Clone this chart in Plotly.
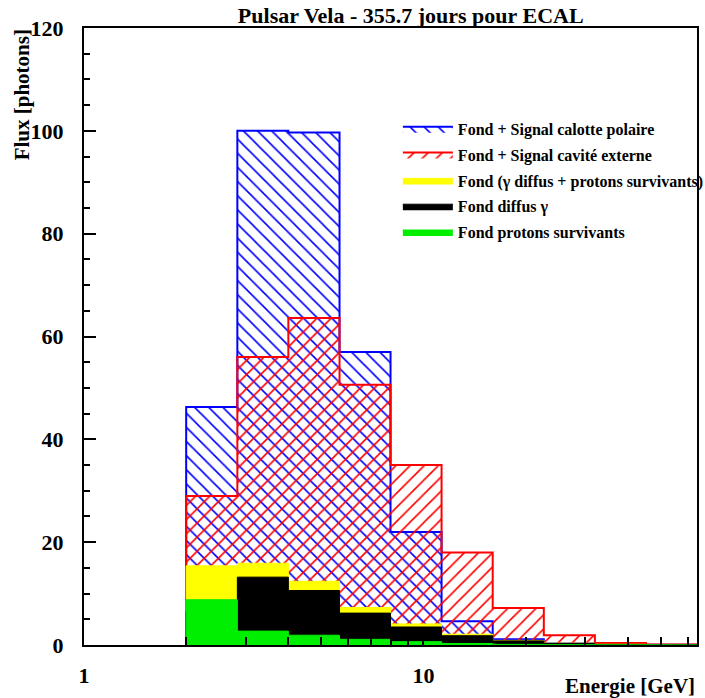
import plotly.graph_objects as go

# Bin edges (GeV) and contents (photons)
edges = [2.0, 2.83, 4.0, 5.66, 8.0, 11.31, 16.0, 22.63, 32.0, 45.25, 64.0]
calotte = [46.3, 100.0, 99.7, 57.0, 22.0, 4.6, 1.1, 0.3, 0.1, 0.05]
cavite = [29.0, 56.0, 63.6, 50.6, 35.0, 18.0, 7.2, 1.9, 0.4, 0.1]
fond_total = [15.4, 15.9, 12.4, 7.3, 4.1, 2.1, 0.9, 0.35, 0.15, 0.05]
fond_gamma = [6.6, 13.2, 10.6, 6.2, 3.5, 1.8, 0.8, 0.3, 0.12, 0.04]
fond_protons = [8.8, 2.7, 1.9, 1.1, 0.65, 0.3, 0.12, 0.06, 0.03, 0.01]

names = ["Fond + Signal calotte polaire", "Fond + Signal cavité externe",
         "Fond (γ diffus + protons survivants)", "Fond diffus γ",
         "Fond protons survivants"]

FONT = "Liberation Serif"


def step(edges, vals):
    xs, ys = [edges[0]], [0]
    for i, v in enumerate(vals):
        xs += [edges[i], edges[i + 1]]
        ys += [v, v]
    xs.append(edges[-1])
    ys.append(0)
    return xs, ys


fig = go.Figure()

series = [
    (calotte, "blue", dict(shape="\\", fgcolor="blue", fgopacity=1, bgcolor="rgba(0,0,0,0)", size=10, solidity=0.16, fillmode="overlay"), None),
    (cavite, "red", dict(shape="/", fgcolor="red", fgopacity=1, bgcolor="rgba(0,0,0,0)", size=10, solidity=0.16, fillmode="overlay"), None),
    (fond_total, "#ffff00", None, "#ffff00"),
    (fond_gamma, "black", None, "black"),
    (fond_protons, "#00ee00", None, "#00ee00"),
]

for i, ((vals, col, pat, fc), name) in enumerate(zip(series, names)):
    xs, ys = step(edges, vals)
    kw = dict(x=xs, y=ys, mode="lines", fill="toself", name=name, legendgroup=f"g{i}",
              line=dict(color=col, width=2 if pat else 1))
    if pat:
        kw["fillpattern"] = pat
        kw["fillcolor"] = "rgba(0,0,0,0)"
    else:
        kw["fillcolor"] = fc
    fig.add_trace(go.Scatter(**kw))

fig.update_layout(
    width=705, height=698,
    margin=dict(l=84, r=8, t=28, b=53, autoexpand=False),
    paper_bgcolor="white", plot_bgcolor="white",
    font=dict(family=FONT, color="black", size=16, weight="bold"),
    showlegend=True,
    legend=dict(x=0.512, y=0.864, xanchor="left", yanchor="top", tracegroupgap=2,
                bgcolor="rgba(0,0,0,0)", font=dict(size=16, family=FONT, weight="bold"),
                itemwidth=50),
    title=dict(text="Pulsar Vela - 355.7 jours pour ECAL", xref="paper", x=0.533, xanchor="center",
               yref="container", y=0.9785, yanchor="middle", font=dict(size=22, family=FONT, weight="bold")),
)

fig.update_xaxes(type="log", range=[0, 1.806], showgrid=False, zeroline=False, automargin=False,
                 showline=True, linecolor="black", linewidth=2, mirror=True,
                 ticks="inside", ticklen=8, tickwidth=1.5, tickcolor="black",
                 tickvals=[1, 2, 3, 4, 5, 6, 7, 8, 9, 10, 20, 30, 40, 50, 60],
                 ticktext=["1", "", "", "", "", "", "", "", "", "10", "", "", "", "", ""],
                 tickfont=dict(size=22, family=FONT, weight="bold"),
                 ticklabelstandoff=10)
fig.update_yaxes(range=[0, 120], showgrid=False, zeroline=False, automargin=False,
                 showline=True, linecolor="black", linewidth=2, mirror=True,
                 ticks="inside", ticklen=12, tickwidth=1.5, tickcolor="black",
                 tickvals=[0, 20, 40, 60, 80, 100, 120],
                 minor=dict(ticks="inside", ticklen=6, tickwidth=1.5, dtick=5, tickcolor="black"),
                 tickfont=dict(size=22, family=FONT, weight="bold"),
                 ticklabelstandoff=14)

fig.add_annotation(text="Flux [photons]", xref="paper", yref="paper",
                   x=-0.101, y=0.891, xanchor="center", yanchor="middle",
                   textangle=-90, showarrow=False,
                   font=dict(size=21, family=FONT, weight="bold"))
fig.add_annotation(text="Energie [GeV]", xref="paper", yref="paper",
                   x=1.0, y=-0.0665, xanchor="right", yanchor="middle",
                   showarrow=False, font=dict(size=21, family=FONT, weight="bold"))

fig.write_html("out.html", config={"displayModeBar": False},
               post_script="document.body.style.margin='0';")
